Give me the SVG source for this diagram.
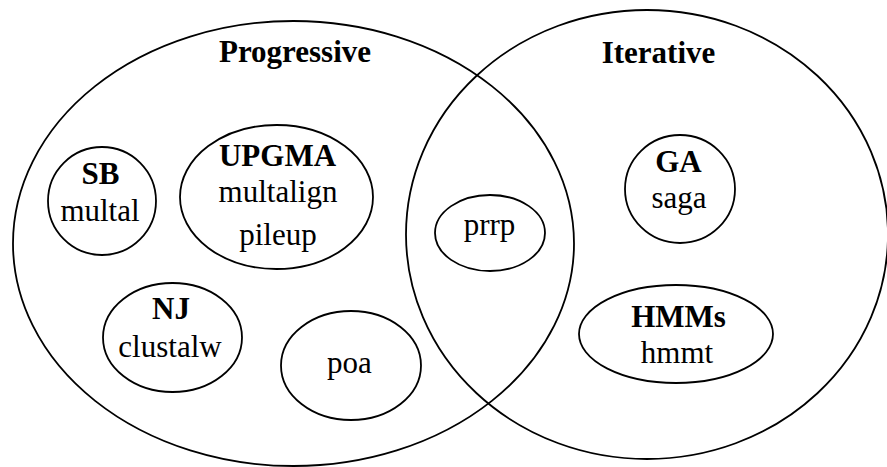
<svg xmlns="http://www.w3.org/2000/svg" width="887" height="467" viewBox="0 0 887 467">
<style>
ellipse{fill:none;stroke:#000;stroke-width:1.8}
text{font-family:'Liberation Serif','Times New Roman',Times,'DejaVu Serif',serif;font-size:31px;text-anchor:middle;fill:#000}
.b{font-weight:bold}
</style>
<rect width="887" height="467" fill="#fff"/>
<g id="progressive">
<ellipse cx="293.5" cy="243.5" rx="280.5" ry="222.5"/>
<text class="b" x="295" y="62">Progressive</text>
</g>
<g id="iterative">
<ellipse cx="647" cy="234.5" rx="241" ry="224.5"/>
<text class="b" x="658.5" y="62.5">Iterative</text>
</g>
<g id="sb">
<ellipse cx="102" cy="201" rx="54" ry="54"/>
<text class="b" x="100.5" y="184">SB</text>
<text x="100" y="221" font-family="Liberation Serif, serif">multal</text>
</g>
<g id="upgma">
<ellipse cx="276.5" cy="197" rx="96.5" ry="72"/>
<text class="b" x="277.5" y="166">UPGMA</text>
<text x="278" y="202">multalign</text>
<text x="278" y="245">pileup</text>
</g>
<g id="nj">
<ellipse cx="172.5" cy="337.5" rx="69.5" ry="54.5"/>
<text class="b" x="171" y="319">NJ</text>
<text x="170" y="357">clustalw</text>
</g>
<g id="poa">
<ellipse cx="351" cy="365.5" rx="70" ry="54.5"/>
<text x="349.5" y="373">poa</text>
</g>
<g id="prrp">
<ellipse cx="490" cy="233" rx="55" ry="38"/>
<text x="489.5" y="235">prrp</text>
</g>
<g id="ga">
<ellipse cx="680" cy="189" rx="55" ry="54"/>
<text class="b" x="678.5" y="172">GA</text>
<text x="679" y="208">saga</text>
</g>
<g id="hmms">
<ellipse cx="676" cy="334" rx="97" ry="49"/>
<text class="b" x="678.5" y="327">HMMs</text>
<text x="677" y="363">hmmt</text>
</g>
<g id="connectors"></g>
</svg>
